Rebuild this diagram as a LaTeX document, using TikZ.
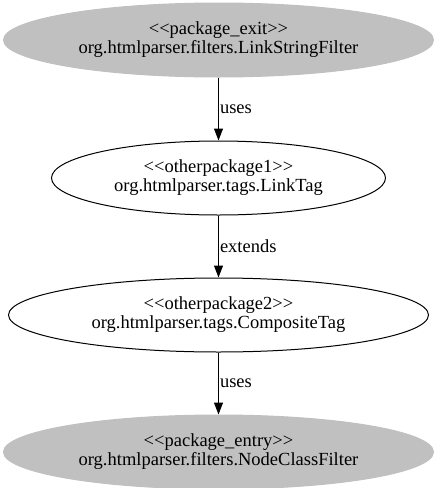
\documentclass[tikz,border=0pt]{standalone}
\usepackage{fontspec}
\setmainfont{Liberation Serif}
\usetikzlibrary{arrows.meta,positioning,shapes.geometric}
\definecolor{pkggray}{RGB}{192,192,192}

\begin{document}
\begin{tikzpicture}[
    x=1pt, y=-1pt,
    cls/.style={ellipse, draw, line width=1pt, inner sep=0pt, align=center, font=\fontsize{18.5}{19}\selectfont},
    pkg/.style={cls, fill=pkggray, draw=pkggray},
    dep/.style={-{Triangle[length=12pt,width=9pt]}, line width=1pt},
    lbl/.style={right, font=\fontsize{18.5}{19}\selectfont, inner sep=1pt},
  ]
  \useasboundingbox (0,0) rectangle (437,488);
  % The classes
  \node[pkg, minimum width=430pt, minimum height=74pt] (exit) at (218.5,40)
    {{<}{<}package\_exit{>}{>}\\org.htmlparser.filters.LinkStringFilter};
  \node[cls, minimum width=334pt, minimum height=74pt] (linktag) at (218.5,178)
    {{<}{<}otherpackage1{>}{>}\\org.htmlparser.tags.LinkTag};
  \node[cls, minimum width=420pt, minimum height=74pt] (comptag) at (218.5,315)
    {{<}{<}otherpackage2{>}{>}\\org.htmlparser.tags.CompositeTag};
  \node[pkg, minimum width=430pt, minimum height=74pt] (entry) at (218.5,452)
    {{<}{<}package\_entry{>}{>}\\org.htmlparser.filters.NodeClassFilter};
  % Dependencies
  \draw[dep] (exit) -- (linktag) node[lbl, midway] {uses};
  \draw[dep] (linktag) -- (comptag) node[lbl, midway] {extends};
  \draw[dep] (comptag) -- (entry) node[lbl, midway] {uses};
\end{tikzpicture}
\end{document}
